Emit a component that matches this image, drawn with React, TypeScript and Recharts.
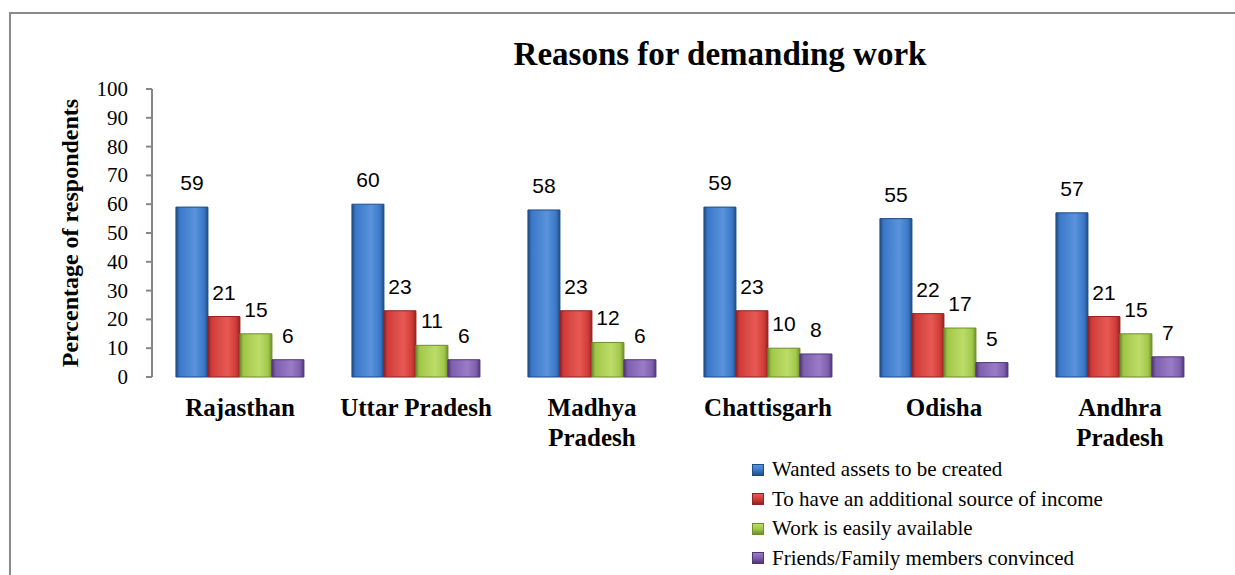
import React from "react";
import { BarChart, Bar, XAxis, YAxis, LabelList } from "recharts";

const states = ["Rajasthan", "Uttar Pradesh", "Madhya Pradesh", "Chattisgarh", "Odisha", "Andhra Pradesh"];
const stateLines = [["Rajasthan"], ["Uttar Pradesh"], ["Madhya", "Pradesh"], ["Chattisgarh"], ["Odisha"], ["Andhra", "Pradesh"]];
const wantedAssets = [59, 60, 58, 59, 55, 57];
const additionalIncome = [21, 23, 23, 23, 22, 21];
const easilyAvailable = [15, 11, 12, 10, 17, 15];
const familyConvinced = [6, 6, 6, 8, 5, 7];
const yTicks = [0, 10, 20, 30, 40, 50, 60, 70, 80, 90, 100];
const edgeTicks = [0, 1, 2, 3, 4, 5, 6];

const series = [
  { key: "wanted", name: "Wanted assets to be created", dark: "#1f4c88", mid: "#3b78c9", light: "#5a93dd" },
  { key: "income", name: "To have an additional source of income", dark: "#8f2321", mid: "#d23b37", light: "#e55a55" },
  { key: "easy", name: "Work is easily available", dark: "#6d8f2d", mid: "#a2c84a", light: "#bcdb68" },
  { key: "friends", name: "Friends/Family members convinced", dark: "#4f3775", mid: "#7f5fae", light: "#9a7cc6" },
];

const data = states.map((s, i) => ({
  state: s,
  pos: i + 0.5,
  wanted: wantedAssets[i],
  income: additionalIncome[i],
  easy: easilyAvailable[i],
  friends: familyConvinced[i],
}));

const serif = "Liberation Serif, Times New Roman, serif";
const sans = "Liberation Sans, Open Sans, sans-serif";

const CategoryTick = (props: any) => {
  const { x, y, index } = props;
  const lines = stateLines[index] || [];
  return (
    <g>
      {lines.map((l, j) => (
        <text key={j} x={x} y={y + 39 + j * 30} textAnchor="middle" fontFamily={serif} fontWeight="bold" fontSize={25} fill="#000">
          {l}
        </text>
      ))}
    </g>
  );
};

const ValueTick = (props: any) => {
  const { x, y, payload } = props;
  return (
    <text x={x} y={y + 7} textAnchor="end" fontFamily={serif} fontSize={21} fill="#000">
      {payload.value}
    </text>
  );
};

const LegendBox = () => (
  <div style={{ position: "absolute", left: 752, top: 455, fontFamily: serif, fontSize: 21, color: "#000" }}>
    {series.map((s) => (
      <div key={s.key} style={{ display: "flex", alignItems: "center", height: 29.5, whiteSpace: "nowrap" }}>
        <span
          style={{
            display: "inline-block",
            width: 10,
            height: 10,
            marginRight: 8,
            border: `1px solid ${s.dark}`,
            background: `linear-gradient(to bottom, ${s.light}, ${s.mid} 50%, ${s.dark})`,
          }}
        />
        {s.name}
      </div>
    ))}
  </div>
);

export default function App() {
  return (
    <div style={{ position: "absolute", left: 0, top: 0, width: 1235, height: 575, background: "#fff", overflow: "hidden" }}>
      <div style={{ position: "absolute", left: 9, top: 12, width: 1240, height: 600, border: "2px solid #8a8a8a", boxSizing: "border-box" }} />
      <div style={{ position: "absolute", left: 0, width: 1440, top: 36, textAlign: "center", fontFamily: serif, fontWeight: "bold", fontSize: 33, color: "#000" }}>
        Reasons for demanding work
      </div>
      <BarChart
        width={1235}
        height={575}
        data={data}
        margin={{ top: 89, right: 27, bottom: 118, left: 20 }}
        barCategoryGap="13.6%"
        barGap={0}
        style={{ position: "absolute", left: 0, top: 0 }}
      >
        <defs>
          {series.map((s) => (
            <linearGradient key={s.key} id={`g-${s.key}`} x1="0" y1="0" x2="1" y2="0">
              <stop offset="0%" stopColor={s.dark} />
              <stop offset="12%" stopColor={s.mid} />
              <stop offset="60%" stopColor={s.light} />
              <stop offset="88%" stopColor={s.mid} />
              <stop offset="100%" stopColor={s.dark} />
            </linearGradient>
          ))}
        </defs>
        <XAxis
          xAxisId="edges"
          dataKey="pos"
          type="number"
          domain={[0, 6]}
          ticks={edgeTicks}
          tick={false}
          tickSize={7}
          height={0}
          stroke="#868686"
          strokeWidth={2}
          allowDataOverflow
        />
        <XAxis
          xAxisId="cat"
          dataKey="state"
          axisLine={false}
          tickLine={false}
          tickSize={0}
          tickMargin={0}
          height={80}
          interval={0}
          tick={<CategoryTick />}
        />
        <YAxis
          domain={[0, 100]}
          ticks={yTicks}
          interval={0}
          width={132}
          tickSize={6}
          tickMargin={18}
          stroke="#868686"
          strokeWidth={2}
          tick={<ValueTick />}
          label={{
            content: () => (
              <text
                x={78}
                y={233}
                transform="rotate(-90 78 233)"
                textAnchor="middle"
                fontFamily={serif}
                fontWeight="bold"
                fontSize={24}
                fill="#000"
              >
                Percentage of respondents
              </text>
            ),
          }}
        />
        {series.map((s) => (
          <Bar
            key={s.key}
            xAxisId="cat"
            dataKey={s.key}
            name={s.name}
            fill={`url(#g-${s.key})`}
            stroke={s.dark}
            strokeWidth={1}
            isAnimationActive={false}
          >
            <LabelList dataKey={s.key} position="top" offset={17} fontFamily={sans} fontSize={21} fill="#000" />
          </Bar>
        ))}
      </BarChart>
      <LegendBox />
    </div>
  );
}
